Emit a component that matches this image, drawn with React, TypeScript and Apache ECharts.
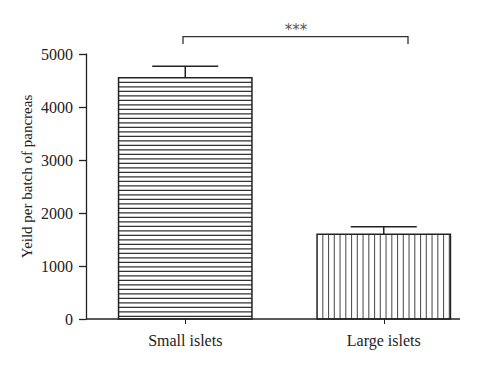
import React, { useEffect, useRef } from "react";
import * as echarts from "echarts";

const categories = ["Small islets", "Large islets"];
const means = [4550, 1600];
const errTops = [4770, 1740];
const yTicks = [0, 1000, 2000, 3000, 4000, 5000];
const yTitle = "Yeild per batch of pancreas";
const sigLabel = "***";

const FONT = "'Liberation Serif', 'DejaVu Serif', serif";
const INK = "#222";

export default function App() {
  const ref = useRef<HTMLDivElement>(null);
  useEffect(() => {
    if (!ref.current) return;
    const chart = echarts.init(ref.current, null, { renderer: "svg" });
    const data = categories.map((c, i) => [i, means[i], errTops[i]]);
    chart.setOption({
      animation: false,
      backgroundColor: "#fff",
      grid: { left: 86, top: 54, width: 397, bottom: 50, containLabel: false },
      xAxis: {
        type: "category",
        data: categories,
        axisLine: { show: false },
        axisTick: { show: true, alignWithLabel: true, length: 5, lineStyle: { color: INK, width: 1 } },
        axisLabel: { color: INK, fontFamily: FONT, fontSize: 16, margin: 13 },
      },
      yAxis: {
        type: "value",
        min: 0,
        max: 5000,
        interval: 1000,
        name: yTitle,
        nameLocation: "middle",
        nameGap: 52,
        nameMoveOverlap: false,
        nameTextStyle: { color: INK, fontFamily: FONT, fontSize: 15, padding: [0, 0, 0, 20] },
        axisLine: { show: true, lineStyle: { color: INK, width: 1.3 } },
        axisTick: { show: true, length: 7, lineStyle: { color: INK, width: 1.3 } },
        axisLabel: {
          color: INK,
          fontFamily: FONT,
          fontSize: 16,
          margin: 13,
          formatter: (v: number) => (yTicks.includes(v) ? String(v) : ""),
        },
        splitLine: { show: false },
      },
      series: [
        {
          type: "custom",
          data,
          encode: { x: 0, y: 1 },
          renderItem: (params: any, api: any) => {
            const i = api.value(0);
            const top = api.coord([i, api.value(1)]);
            const base = api.coord([i, 0]);
            const errPt = api.coord([i, api.value(2)]);
            const band = api.size([1, 0])[0];
            const w = band * 0.672;
            const x0 = top[0] - w / 2;
            const x1 = top[0] + w / 2;
            const y0 = top[1];
            const y1 = base[1];
            const children: any[] = [];
            children.push({
              type: "rect",
              shape: { x: x0, y: y0, width: w, height: y1 - y0 },
              style: { fill: "#fff", stroke: "none" },
            });
            if (params.dataIndex === 0) {
              const step = 4.5;
              for (let y = y0 + step; y < y1 - 1; y += step) {
                children.push({
                  type: "line",
                  shape: { x1: x0, y1: y, x2: x1, y2: y },
                  style: { stroke: "#333", lineWidth: 1.4 },
                });
              }
            } else {
              const step = 5.75;
              for (let x = x0 + step; x < x1 - 1; x += step) {
                children.push({
                  type: "line",
                  shape: { x1: x, y1: y0, x2: x, y2: y1 },
                  style: { stroke: "#555", lineWidth: 1.1 },
                });
              }
            }
            children.push({
              type: "rect",
              shape: { x: x0, y: y0, width: w, height: y1 - y0 },
              style: { fill: "none", stroke: INK, lineWidth: 1.5 },
            });
            const capW = 66;
            children.push({
              type: "line",
              shape: { x1: top[0], y1: y0, x2: top[0], y2: errPt[1] },
              style: { stroke: INK, lineWidth: 1.5 },
            });
            children.push({
              type: "line",
              shape: { x1: top[0] - capW / 2, y1: errPt[1], x2: top[0] + capW / 2, y2: errPt[1] },
              style: { stroke: INK, lineWidth: 1.5 },
            });
            return { type: "group", children };
          },
        },
      ],
    });
    const yZero = chart.convertToPixel({ yAxisIndex: 0 }, 0) as number;
    chart.setOption({
      graphic: [
        {
          type: "line",
          shape: { x1: 86, y1: yZero, x2: 460, y2: yZero },
          style: { stroke: INK, lineWidth: 1.3 },
          z: 10,
        },
        {
          type: "polyline",
          shape: { points: [[183, 44], [183, 36.7], [408, 36.7], [408, 44]] },
          style: { stroke: "#333", lineWidth: 1.3, fill: "none" },
        },
        {
          type: "text",
          x: 296,
          y: 30,
          style: {
            text: sigLabel,
            fontFamily: "'DejaVu Sans', sans-serif",
            fontSize: 15,
            fill: "#555",
            align: "center",
            verticalAlign: "middle",
          },
        },
      ],
    });
    return () => chart.dispose();
  }, []);
  return <div ref={ref} style={{ width: 500, height: 369, position: "absolute", left: 0, top: 0 }} />;
}
